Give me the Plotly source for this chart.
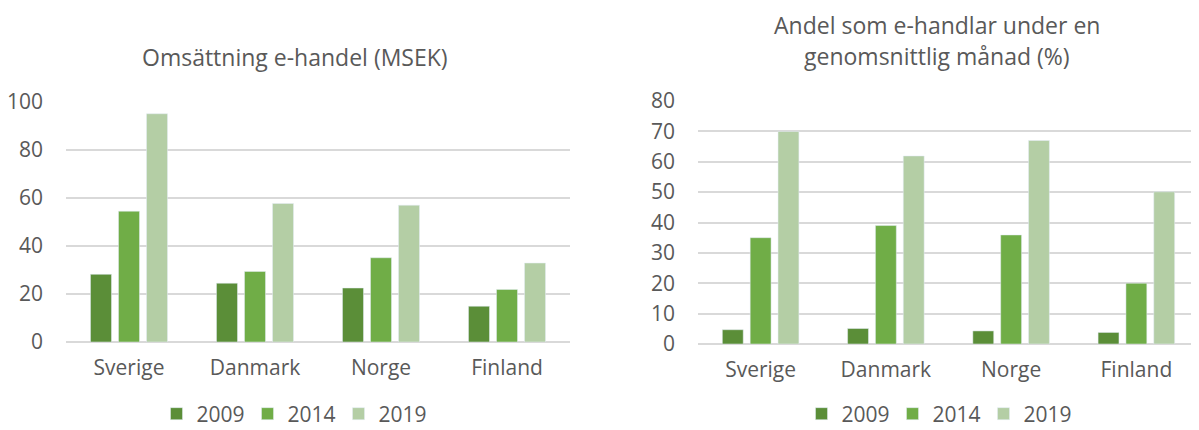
import plotly.graph_objects as go

countries = ["Sverige", "Danmark", "Norge", "Finland"]
years = ["2009", "2014", "2019"]
colors = ["#5B8E38", "#70AD47", "#B4CEA5"]

# Omsättning e-handel (MSEK)
turnover_2009 = [28.2, 24.5, 22.5, 14.9]
turnover_2014 = [54.5, 29.4, 35.1, 21.9]
turnover_2019 = [95.1, 57.7, 57.0, 32.9]

# Andel som e-handlar under en genomsnittlig månad (%)
share_2009 = [4.7, 5.1, 4.3, 3.8]
share_2014 = [35.0, 39.0, 35.9, 20.0]
share_2019 = [70.0, 61.9, 67.0, 50.1]

left_series = [turnover_2009, turnover_2014, turnover_2019]
right_series = [share_2009, share_2014, share_2019]

FONT = "Open Sans"
GREY = "#595959"
GRID = "#D9D9D9"
FS = 21
TFS = 23

# page body has an 8px margin; figure sized to fit the 1199x430 window
OFF = 8
W = 1199 - OFF
H = 430 - OFF


def px(sx):
    return (sx - OFF) / W


def py(sy):
    return 1 - (sy - OFF) / H


fig = go.Figure()
for yr, vals, c in zip(years, left_series, colors):
    fig.add_trace(go.Bar(x=countries, y=vals, name=yr, marker_color=c,
                         xaxis="x", yaxis="y", legend="legend"))
for yr, vals, c in zip(years, right_series, colors):
    fig.add_trace(go.Bar(x=countries, y=vals, name=yr, marker_color=c,
                         xaxis="x2", yaxis="y2", legend="legend2"))

axis_common = dict(showgrid=False, showline=False, zeroline=False,
                   tickfont=dict(family=FONT, size=FS, color=GREY),
                   ticks="", fixedrange=True)
yaxis_common = dict(showgrid=True, gridcolor=GRID, gridwidth=1.5,
                    zeroline=True, zerolinecolor=GRID, zerolinewidth=1.5,
                    showline=False, ticks="",
                    tickfont=dict(family=FONT, size=FS, color=GREY))

legend_font = dict(family=FONT, size=FS, color=GREY)

fig.update_layout(
    width=W, height=H,
    margin=dict(l=0, r=0, t=0, b=0, autoexpand=False),
    paper_bgcolor="white", plot_bgcolor="white",
    barmode="group", bargap=0.333, bargroupgap=0.25,
    font=dict(family=FONT, color=GREY),
    xaxis=dict(domain=[px(66), px(570)], anchor="y", ticklabelstandoff=11, **axis_common),
    yaxis=dict(domain=[py(342), py(102)], anchor="x", range=[0, 100],
               tickvals=[0, 20, 40, 60, 80, 100], ticklabelstandoff=22, **yaxis_common),
    xaxis2=dict(domain=[px(698), 1.0], anchor="y2", ticklabelstandoff=11, **axis_common),
    yaxis2=dict(domain=[py(344), py(101)], anchor="x2", range=[0, 80],
                tickvals=[0, 10, 20, 30, 40, 50, 60, 70, 80], ticklabelstandoff=22, **yaxis_common),
    legend=dict(orientation="h", x=px(293), xanchor="center", y=py(414), yanchor="middle",
                font=legend_font, entrywidth=46, entrywidthmode="pixels",
                bgcolor="rgba(0,0,0,0)"),
    legend2=dict(orientation="h", x=px(938), xanchor="center", y=py(414), yanchor="middle",
                 font=legend_font, entrywidth=46, entrywidthmode="pixels",
                 bgcolor="rgba(0,0,0,0)"),
    annotations=[
        dict(text="Omsättning e-handel (MSEK)", x=px(295), y=py(57), xref="paper", yref="paper",
             showarrow=False, xanchor="center", yanchor="middle",
             font=dict(family=FONT, size=TFS, color=GREY)),
        dict(text="Andel som e-handlar under en", x=px(937), y=py(25),
             xref="paper", yref="paper", showarrow=False, xanchor="center", yanchor="middle",
             font=dict(family=FONT, size=TFS, color=GREY)),
        dict(text="genomsnittlig månad (%)", x=px(937), y=py(56),
             xref="paper", yref="paper", showarrow=False, xanchor="center", yanchor="middle",
             font=dict(family=FONT, size=TFS, color=GREY)),
    ],
)

fig.write_html("out.html")
